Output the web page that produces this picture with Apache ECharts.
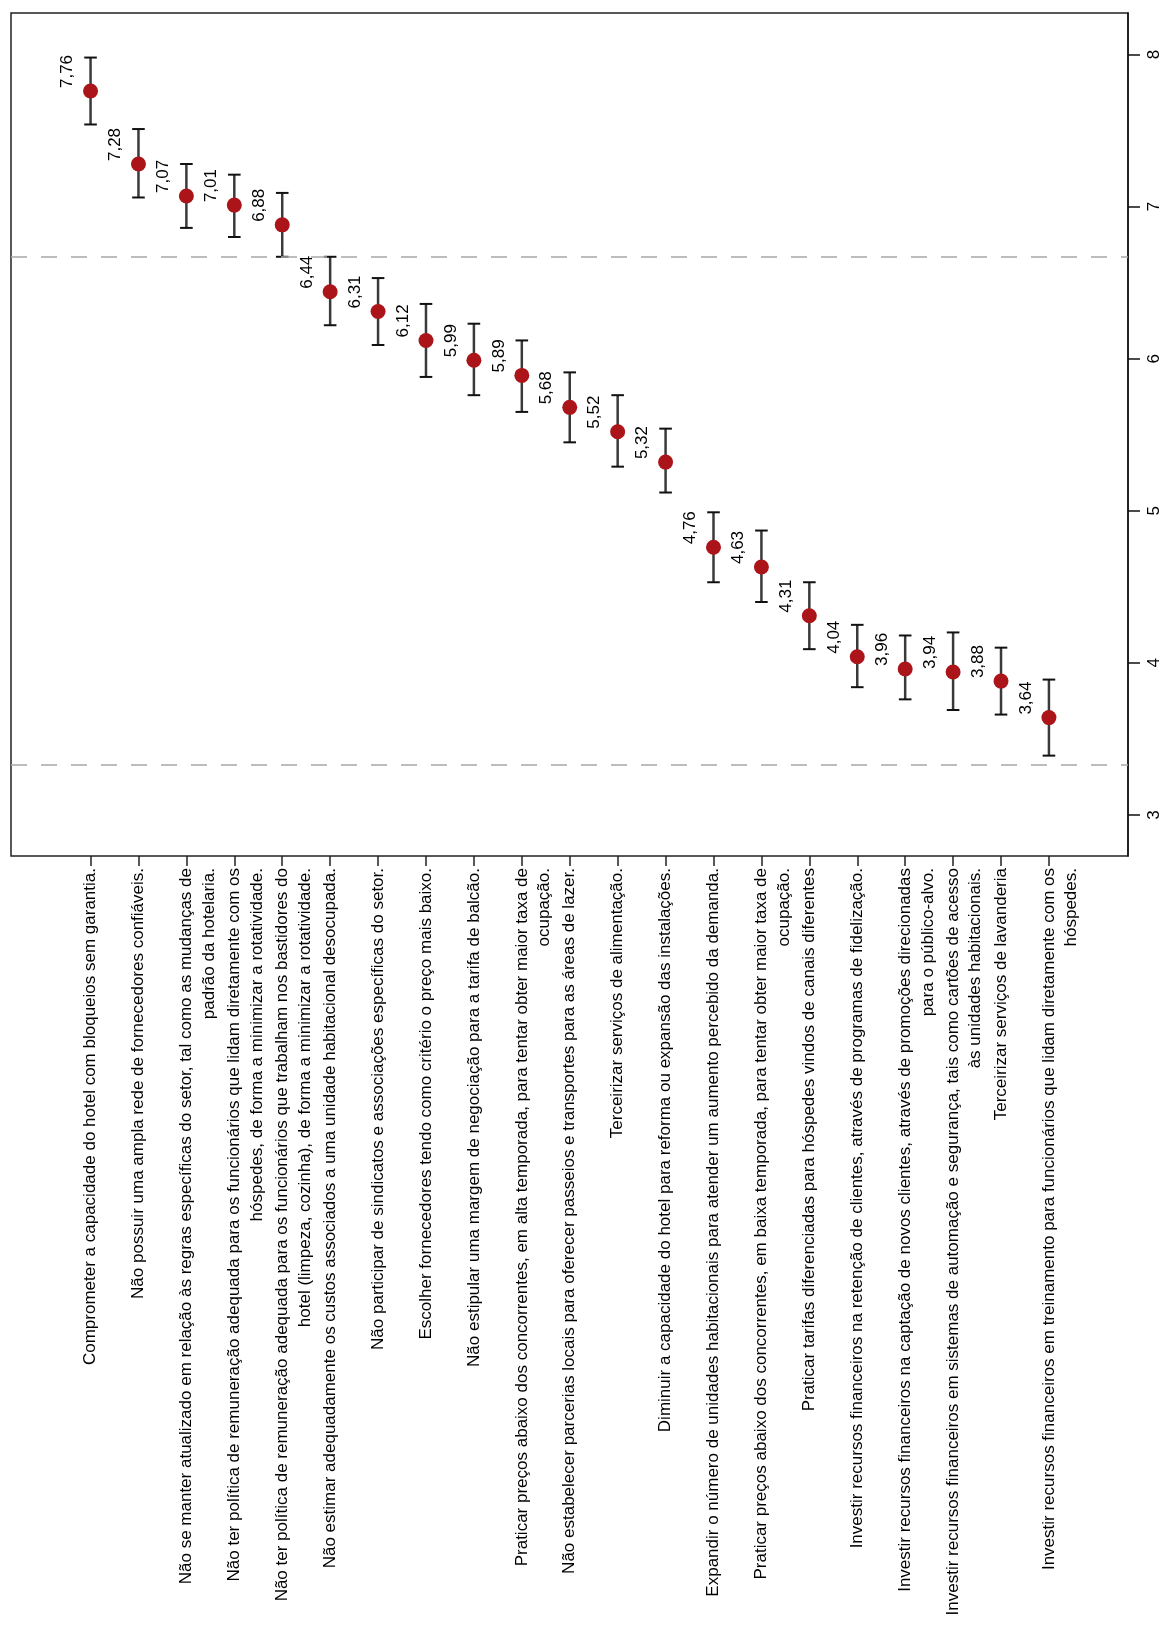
<!DOCTYPE html>
<html>
<head>
<meta charset="utf-8">
<script src="https://cdn.jsdelivr.net/npm/echarts@6/dist/echarts.min.js"></script>
<style>
html,body{margin:0;padding:0;background:#fff;}
#chart{width:1165px;height:1641px;}
</style>
</head>
<body>
<div id="chart"></div>
<script>
const categories = [
  "Comprometer a capacidade do hotel com bloqueios sem garantia.",
  "Não possuir uma ampla rede de fornecedores confiáveis.",
  "Não se manter atualizado em relação às regras específicas do setor, tal como as mudanças de",
  "Não ter política de remuneração adequada para os funcionários que lidam diretamente com os",
  "Não ter política de remuneração adequada para os funcionários que trabalham nos bastidores do",
  "Não estimar adequadamente os custos associados a uma unidade habitacional desocupada.",
  "Não participar de sindicatos e associações específicas do setor.",
  "Escolher fornecedores tendo como critério o preço mais baixo.",
  "Não estipular uma margem de negociação para a tarifa de balcão.",
  "Praticar preços abaixo dos concorrentes, em alta temporada, para tentar obter maior taxa de",
  "Não estabelecer parcerias locais para oferecer passeios e transportes para as áreas de lazer.",
  "Terceirizar serviços de alimentação.",
  "Diminuir a capacidade do hotel para reforma ou expansão das instalações.",
  "Expandir o número de unidades habitacionais para atender um aumento percebido da demanda.",
  "Praticar preços abaixo dos concorrentes, em baixa temporada, para tentar obter maior taxa de",
  "Praticar tarifas diferenciadas para hóspedes vindos de canais diferentes",
  "Investir recursos financeiros na retenção de clientes, através de programas de fidelização.",
  "Investir recursos financeiros na captação de novos clientes, através de promoções direcionadas",
  "Investir recursos financeiros em sistemas de automação e segurança, tais como cartões de acesso",
  "Terceirizar serviços de lavanderia",
  "Investir recursos financeiros em treinamento para funcionários que lidam diretamente com os"
];
const secondLines = [
  "", "", "padrão da hotelaria.",
  "hóspedes, de forma a minimizar a rotatividade.",
  "hotel (limpeza, cozinha), de forma a minimizar a rotatividade.",
  "", "", "", "",
  "ocupação.",
  "", "", "", "",
  "ocupação.",
  "", "",
  "para o público-alvo.",
  "às unidades habitacionais.",
  "",
  "hóspedes."
];
const means = [7.76,7.28,7.07,7.01,6.88,6.44,6.31,6.12,5.99,5.89,5.68,5.52,5.32,4.76,4.63,4.31,4.04,3.96,3.94,3.88,3.64];
const lower = [7.54,7.06,6.86,6.80,6.67,6.22,6.09,5.88,5.76,5.65,5.45,5.29,5.12,4.53,4.40,4.09,3.84,3.76,3.69,3.66,3.39];
const upper = [7.98,7.51,7.28,7.21,7.09,6.67,6.53,6.36,6.23,6.12,5.91,5.76,5.54,4.99,4.87,4.53,4.25,4.18,4.20,4.10,3.89];
const valueTicks = [3,4,5,6,7,8];
const refLines = [3.333, 6.667];

const FONT = "'Liberation Sans',Arial,sans-serif";
const FS = 17;
const X_MIN = -1.66, X_MAX = 21.65;
const Y_MIN = 2.73, Y_MAX = 8.273;
const LINE_SHIFT = 0.474;

const idx = categories.map((c, i) => i);
const secondIdx = idx.filter(i => secondLines[i]).map(i => i + LINE_SHIFT);

const gridBox = {left: 11, top: 13, width: 1117, height: 843, containLabel: false, outerBoundsMode: 'none'};

const chart = echarts.init(document.getElementById('chart'));
chart.setOption({
  animation: false,
  backgroundColor: '#fff',
  grid: [
    Object.assign({show: true, borderColor: '#222', borderWidth: 1.5, backgroundColor: 'transparent'}, gridBox),
    Object.assign({show: false}, gridBox)
  ],
  xAxis: [
    {
      type: 'value', gridIndex: 0, position: 'bottom', min: X_MIN, max: X_MAX,
      axisLine: {show: false, onZero: false},
      splitLine: {show: false},
      axisTick: {show: true, customValues: idx, length: 10, lineStyle: {color: '#222', width: 1.5}},
      axisLabel: {
        customValues: idx, rotate: 90, margin: 12,
        fontFamily: FONT, fontSize: FS, color: '#000',
        formatter: v => categories[Math.round(v)] || ''
      }
    },
    {
      type: 'value', gridIndex: 1, position: 'bottom', min: X_MIN, max: X_MAX,
      axisLine: {show: false, onZero: false},
      splitLine: {show: false},
      axisTick: {show: false},
      axisLabel: {
        customValues: secondIdx, rotate: 90, margin: 12,
        fontFamily: FONT, fontSize: FS, color: '#000',
        formatter: v => secondLines[Math.round(v - LINE_SHIFT)] || ''
      }
    }
  ],
  yAxis: [
    {
      type: 'value', gridIndex: 0, position: 'right', min: Y_MIN, max: Y_MAX,
      axisLine: {show: true, onZero: false, lineStyle: {color: '#111', width: 1.5}},
      splitLine: {show: false},
      axisTick: {show: true, customValues: valueTicks, length: 12, lineStyle: {color: '#111', width: 1.5}},
      axisLabel: {
        customValues: valueTicks, rotate: 90, margin: 18,
        fontFamily: FONT, fontSize: FS, color: '#000'
      }
    },
    {
      type: 'value', gridIndex: 1, min: Y_MIN, max: Y_MAX, show: false,
      axisLine: {show: false, onZero: false}
    }
  ],
  series: [
    {
      type: 'custom',
      xAxisIndex: 0, yAxisIndex: 0,
      z: 2,
      data: idx.map(i => [i, lower[i], upper[i]]),
      renderItem: function (params, api) {
        const x = api.value(0);
        const pLo = api.coord([x, api.value(1)]);
        const pHi = api.coord([x, api.value(2)]);
        const half = 6.3;
        return {
          type: 'group',
          children: [
            {type: 'line', shape: {x1: pLo[0], y1: pLo[1], x2: pHi[0], y2: pHi[1]},
             style: {stroke: '#3a3a3a', lineWidth: 2.5}},
            {type: 'line', shape: {x1: pLo[0] - half, y1: pLo[1], x2: pLo[0] + half, y2: pLo[1]},
             style: {stroke: '#111', lineWidth: 2}},
            {type: 'line', shape: {x1: pHi[0] - half, y1: pHi[1], x2: pHi[0] + half, y2: pHi[1]},
             style: {stroke: '#111', lineWidth: 2}}
          ]
        };
      }
    },
    {
      type: 'scatter',
      xAxisIndex: 0, yAxisIndex: 0,
      z: 3,
      symbol: 'circle',
      symbolSize: 15,
      itemStyle: {color: '#ab1419', opacity: 1},
      data: idx.map(i => [i, means[i]]),
      label: {
        show: true,
        rotate: 90,
        position: [-15.5, 4.5],
        align: 'left',
        verticalAlign: 'middle',
        fontFamily: FONT, fontSize: FS, color: '#000',
        formatter: p => p.value[1].toFixed(2).replace('.', ',')
      },
      markLine: {
        silent: true,
        symbol: ['none', 'none'],
        label: {show: false},
        lineStyle: {type: [16, 14], color: '#a8a8a8', width: 1.5},
        data: refLines.map(v => ({yAxis: v}))
      }
    }
  ]
});
</script>
</body>
</html>
